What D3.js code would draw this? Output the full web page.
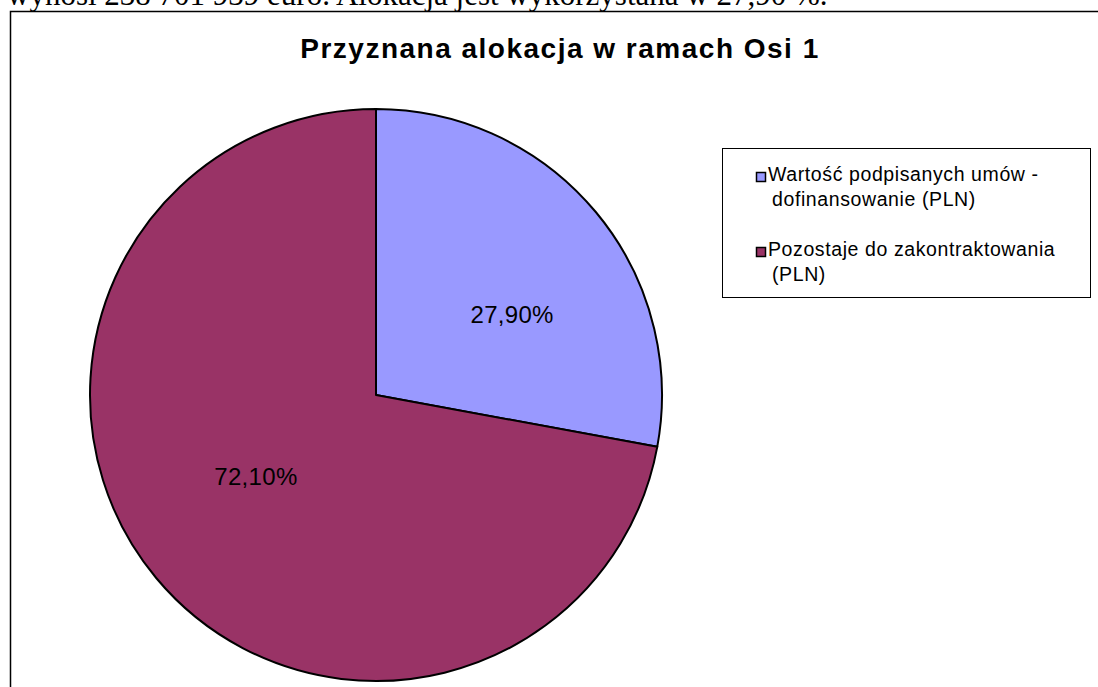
<!DOCTYPE html>
<html>
<head>
<meta charset="utf-8">
<script src="https://cdnjs.cloudflare.com/ajax/libs/d3/7.8.5/d3.min.js"></script>
<style>
  body { margin: 0; background: white; overflow: hidden; }
</style>
</head>
<body>
<script>
var categories = ["Wartość podpisanych umów - dofinansowanie (PLN)", "Pozostaje do zakontraktowania (PLN)"];
var legendLines = [["Wartość podpisanych umów -", "dofinansowanie (PLN)"], ["Pozostaje do zakontraktowania", "(PLN)"]];
var values = [27.90, 72.10];
var colors = ["#9999FF", "#993366"];
var title = "Przyznana alokacja w ramach Osi 1";
var pageText = "wynosi 238 701 939 euro. Alokacja jest wykorzystana w 27,90 %.";

var width = 1098,
    height = 687;

var svg = d3.select("body").append("svg")
  .attr("width", width)
  .attr("height", height);

// text of the document above the chart (cut off at the top)
svg.append("text")
  .attr("x", 7)
  .attr("y", 5)
  .style("font-family", "'Liberation Serif', 'Times New Roman', serif")
  .style("font-size", "31px")
  .text(pageText);

// chart frame
svg.append("rect")
  .attr("x", 10.5)
  .attr("y", 11.5)
  .attr("width", 1200)
  .attr("height", 800)
  .style("fill", "white")
  .style("stroke", "black")
  .style("stroke-width", 1.5);

svg.append("text")
  .attr("x", 560)
  .attr("y", 58)
  .attr("text-anchor", "middle")
  .style("font-family", "'Liberation Sans', Arial, sans-serif")
  .style("font-weight", "bold")
  .style("font-size", "28px")
  .style("letter-spacing", "1.5px")
  .text(title);

var cx = 376, cy = 395, radius = 286;

var pie = d3.pie().sort(null).value(function(d) { return d; });
var arc = d3.arc().innerRadius(0).outerRadius(radius);

var g = svg.append("g")
  .attr("transform", "translate(" + cx + "," + cy + ")");

var arcs = pie(values);

g.selectAll("path")
  .data(arcs)
  .enter().append("path")
  .attr("d", arc)
  .style("fill", function(d, i) { return colors[i]; })
  .style("stroke", "black")
  .style("stroke-width", 2)
  .style("stroke-linejoin", "round");

var fmt = function(v) { return d3.format(".2f")(v).replace(".", ",") + "%"; };

// labels sit a little further round than the middle of the slice, as in Excel
g.selectAll("text.pct")
  .data(arcs)
  .enter().append("text")
  .attr("class", "pct")
  .attr("transform", function(d) {
    var a = (d.startAngle + d.endAngle) / 2 + 0.13;
    var r = radius * 0.53;
    return "translate(" + (Math.sin(a) * r + 8) + "," + (-Math.cos(a) * r) + ")";
  })
  .attr("dy", "0.36em")
  .attr("text-anchor", "middle")
  .style("font-family", "'Liberation Sans', Arial, sans-serif")
  .style("font-size", "24px")
  .style("letter-spacing", "0.3px")
  .text(function(d) { return fmt(d.data); });

// legend
var legend = svg.append("g");

legend.append("rect")
  .attr("x", 722.5)
  .attr("y", 148.5)
  .attr("width", 368)
  .attr("height", 149)
  .style("fill", "white")
  .style("stroke", "black")
  .style("stroke-width", 1);

var item = legend.selectAll("g.item")
  .data(categories)
  .enter().append("g")
  .attr("class", "item")
  .attr("transform", function(d, i) { return "translate(756," + (172 + i * 75) + ")"; });

item.append("rect")
  .attr("x", 0.5)
  .attr("y", 0.5)
  .attr("width", 9)
  .attr("height", 9)
  .style("fill", function(d, i) { return colors[i]; })
  .style("stroke", "black")
  .style("stroke-width", 1.5);

item.append("text")
  .attr("x", 12)
  .attr("y", 9)
  .style("font-family", "'Liberation Sans', Arial, sans-serif")
  .style("font-size", "19.5px")
  .style("letter-spacing", "0.6px")
  .selectAll("tspan")
  .data(function(d, i) { return legendLines[i]; })
  .enter().append("tspan")
  .attr("x", function(d, j) { return j === 0 ? 12 : 16; })
  .attr("dy", function(d, j) { return j === 0 ? 0 : 25; })
  .text(function(d) { return d; });
</script>
</body>
</html>
